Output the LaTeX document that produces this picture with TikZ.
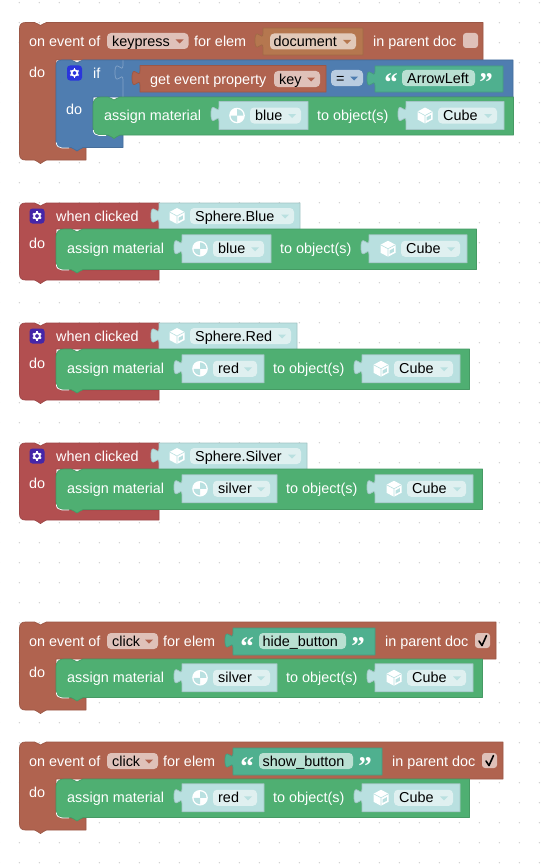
\documentclass[tikz,border=0pt]{standalone}
\usepackage{fontspec}
\setmainfont{Liberation Sans}
\newfontfamily\qf{Liberation Serif}
\definecolor{cbrown}{HTML}{B0634F}
\definecolor{cred}{HTML}{B24F50}
\definecolor{cgreen}{HTML}{4FAF72}
\definecolor{cblue}{HTML}{4F7DB0}
\definecolor{cval}{HTML}{B9E0E0}
\definecolor{cstr}{HTML}{4FB08F}
\definecolor{cdoc}{HTML}{B5774F}
\definecolor{fbrown}{HTML}{DFC1B9}
\definecolor{fval}{HTML}{DFF0F0}
\definecolor{fblue}{HTML}{B9CCE0}
\definecolor{fstr}{HTML}{B9E0D2}
\definecolor{fdoc}{HTML}{E1C9B9}
\definecolor{cgrid}{HTML}{CFCFCF}
\definecolor{cgearb}{HTML}{2A35DC}
\definecolor{cgearp}{HTML}{4526A8}
\newcounter{nn}
\tikzset{
  lab/.style={anchor=base west,inner sep=0pt,text=white,font=\fontsize{14.4}{16}\selectfont},
  txt/.style={lab,text=black},
  quot/.style={anchor=base,inner sep=0pt,text=white,font=\qf\bfseries\fontsize{27}{27}\selectfont},
  blk/.style={fill=#1,draw=#1!88!black,line width=0.7pt,line join=round}
}
% white labels and black field labels
\newcommand{\lbl}[3]{\stepcounter{nn}\node[lab] (n\thenn) at (#1,#2+5.5) {#3};}
\newcommand{\ftx}[3]{\stepcounter{nn}\node[txt] (n\thenn) at (#1,#2+5.5) {#3};}
% statement block: colour, left, top, right, bottom
\newcommand{\stmt}[5]{%
  \draw[blk=#1] (#2,#3+8) .. controls (#2,#3+3) and (#2+3,#3) .. (#2+8,#3)
   -- (#2+15,#3) .. controls (#2+18,#3) and (#2+19,#3+3) .. (#2+21,#3+3)
   .. controls (#2+23,#3+3) and (#2+24,#3) .. (#2+27,#3)
   -- (#4,#3) -- (#4,#5) -- (#2+27,#5)
   .. controls (#2+24,#5) and (#2+23,#5+3.5) .. (#2+21,#5+3.5)
   .. controls (#2+19,#5+3.5) and (#2+18,#5) .. (#2+15,#5)
   -- (#2+8,#5) .. controls (#2+3,#5) and (#2,#5-3) .. (#2,#5-8) -- cycle;}
% C block: colour, left, top, right, rowbottom, inner x, innerbottom, bar right, bottom
\newcommand{\cblock}[9]{%
  \draw[blk=#1] (#2,#3+6) .. controls (#2,#3+2) and (#2+2,#3) .. (#2+6,#3)
   -- (#2+15,#3) .. controls (#2+18,#3) and (#2+19,#3+3) .. (#2+21,#3+3)
   .. controls (#2+23,#3+3) and (#2+24,#3) .. (#2+27,#3)
   -- (#4,#3) -- (#4,#5) -- (#6,#5) -- (#6,#7-5)
   .. controls (#6,#7-2) and (#6+2,#7) .. (#6+5,#7)
   -- (#8,#7) -- (#8,#9) -- (#2+27,#9)
   .. controls (#2+24,#9) and (#2+23,#9+3.5) .. (#2+21,#9+3.5)
   .. controls (#2+19,#9+3.5) and (#2+18,#9) .. (#2+15,#9)
   -- (#2+6,#9) .. controls (#2+2,#9) and (#2,#9-2) .. (#2,#9-6) -- cycle;}
% white crescent under a nested block: left, bottom
\newcommand{\cres}[2]{\draw[white,line width=0.7pt] (#1+0.3,#2-5) .. controls (#1+0.3,#2-1.5) and (#1+3,#2+0.5) .. (#1+6,#2+0.5) -- (#1+13,#2+0.5);}
% value block with puzzle tab: colour, left, top, right, bottom
\newcommand{\tabbed}[5]{%
  \draw[blk=#1] (#2,#3) -- (#4,#3) -- (#4,#5) -- (#2,#5) -- (#2,#3+20)
   .. controls (#2,#3+10) and (#2-8,#3+28) .. (#2-8,#3+12.5)
   .. controls (#2-8,#3-3) and (#2,#3+15) .. (#2,#3+5) -- cycle;}
% dropdown: fill, left, centre y, right, arrow colour
\newcommand{\dd}[5]{%
  \fill[#1,rounded corners=4pt] (#2,#3-8) rectangle (#4,#3+8);
  \fill[#5] (#4-13,#3-1.5) -- (#4-5,#3-1.5) -- (#4-9,#3+2.5) -- cycle;}
% icons
\newcommand{\globe}[2]{%
  \fill[white] (#1,#2) circle[radius=7.8];
  \fill[cval] (#1,#2) -- (#1,#2-6.4) .. controls (#1+3.5,#2-6.4) and (#1+6.4,#2-3.5) .. (#1+6.4,#2) -- cycle;
  \fill[cval] (#1,#2) -- (#1,#2+6.4) .. controls (#1-3.5,#2+6.4) and (#1-6.4,#2+3.5) .. (#1-6.4,#2) -- cycle;}
\newcommand{\cube}[2]{%
  \fill[white,line join=round] (#1,#2-8) -- (#1+7.5,#2-4) -- (#1+7.5,#2+4) -- (#1,#2+8) -- (#1-7.5,#2+4) -- (#1-7.5,#2-4) -- cycle;
  \draw[cval,line width=0.6pt] (#1-7.5,#2-4) -- (#1,#2) -- (#1+7.5,#2-4) (#1,#2) -- (#1,#2+8);
  \fill[cval] (#1+1.5,#2+1.8) -- (#1+5.8,#2-0.6) -- (#1+5.8,#2+3) -- (#1+1.5,#2+5.2) -- cycle;}
\newcommand{\gear}[3]{%
  \fill[#1,rounded corners=3pt] (#2-7.5,#3-7.5) rectangle (#2+7.5,#3+7.5);
  \draw[white,line width=1.7pt] (#2,#3) circle[radius=2.9];
  \foreach \ang in {30,90,...,330}{\draw[white,line width=1.5pt] (#2,#3) ++(\ang:3.2) -- ++(\ang:1.6);}}
% assign material row: xleft, top, bottom, value right, value text
\newcommand{\assign}[5]{%
  \pgfmathsetmacro{\yc}{(#2+#3)/2-0.5}
  \pgfmathsetmacro{\yt}{\yc-0.8}
  \pgfmathsetmacro{\cl}{#4+98}
  \stmt{cgreen}{#1}{#2}{\cl+107.5}{#3}
  \cres{#1}{#3}
  \lbl{#1+11}{\yt}{assign material}
  \tabbed{cval}{#1+126}{\yc-14}{#4}{\yc+14}
  \globe{#1+144}{\yc}
  \dd{fval}{#1+157}{\yc}{#4-7}{cval}
  \ftx{#1+162}{\yt}{#5}
  \lbl{#4+9}{\yt}{to object(s)}
  \tabbed{cval}{\cl}{\yc-14}{\cl+98}{\yc+14}
  \cube{\cl+19}{\yc}
  \dd{fval}{\cl+32}{\yc}{\cl+91}{cval}
  \ftx{\cl+37}{\yt}{Cube}}
% when clicked block
\newcommand{\clicked}[5]{%
  \cblock{cred}{19.5}{#1}{159.5}{#1+26}{56}{#1+67}{159}{#1+77}
  \gear{cgearp}{37}{#1+13}
  \lbl{56}{#1+12.5}{when clicked}
  \lbl{29}{#1+40}{do}
  \tabbed{cval}{159}{#1}{#2}{#1+26.5}
  \cube{177}{#1+13}
  \dd{fval}{190}{#1+13}{#2-6}{cval}
  \ftx{195}{#1+12.5}{#3}
  \assign{56}{#1+26}{#1+66.5}{#4}{#5}}
% on event click block
\newcommand{\onclick}[6]{%
  \cblock{cbrown}{19.5}{#1}{#2}{#1+37}{56}{#1+76}{86}{#1+88}
  \lbl{29}{#1+19}{on event of}
  \dd{fbrown}{107}{#1+19}{158}{cbrown}
  \ftx{112}{#1+19}{click}
  \lbl{163}{#1+19}{for elem}
  \tabbed{cstr}{233}{#1+6}{#3}{#1+33}
  \node[quot] (q#1a) at (247,#1+33) {“};
  \fill[fstr,rounded corners=4pt] (259,#1+11) rectangle (#3-29,#1+27);
  \ftx{262.5}{#1+19}{#4}
  \node[quot] (q#1b) at (#3-17,#1+33) {”};
  \lbl{#3+10}{#1+19}{in parent doc}
  \fill[fbrown,rounded corners=3pt] (#2-21,#1+11) rectangle (#2-6,#1+26);
  \draw[black,line width=1.6pt,line cap=round,line join=round] (#2-17,#1+19) -- (#2-14,#1+23.5) -- (#2-9.5,#1+13.5);
  \lbl{29}{#1+50}{do}
  \assign{56}{#1+37}{#1+75.5}{#5}{#6}}
\begin{document}
\begin{tikzpicture}[x=1pt,y=-1pt]
\useasboundingbox (0,0) rectangle (544,867);
\fill[white] (0,0) rectangle (544,867);
% grid
\foreach \gx in {0,...,27}{\foreach \gy in {0,...,43}{
  \fill[cgrid] (\gx*20-0.7,\gy*20+2.7) circle[radius=0.75];}}
% block 1
\cblock{cbrown}{19.5}{22.5}{483}{60}{56}{147}{86}{160}
\lbl{29}{41}{on event of}
\dd{fbrown}{107}{41}{188.5}{cbrown}
\ftx{112}{41}{keypress}
\lbl{194}{41}{for elem}
\tabbed{cdoc}{263}{28}{363}{55}
\dd{fdoc}{270}{41.5}{356}{cdoc}
\ftx{273.5}{41}{document}
\lbl{373}{41}{in parent doc}
\fill[fbrown,rounded corners=3pt] (463,33) rectangle (478,48);
\lbl{29}{72}{do}
% if block
\cblock{cblue}{56}{60}{513}{97}{93}{135}{123}{147.5}
\cres{56}{147.5}
\gear{cgearb}{74.5}{73}
\lbl{93}{72.5}{if}
\lbl{66}{109}{do}
\draw[cblue!70!white,line width=0.7pt] (123,60.5) -- (123,65) .. controls (123,75) and (115,57) .. (115,72.5) .. controls (115,88) and (123,70) .. (123,80) -- (123,97);
\tabbed{cbrown}{140}{65.5}{326}{92}
\lbl{150}{79}{get event property}
\dd{fbrown}{274}{79}{320}{cbrown}
\ftx{279}{79}{key}
\dd{fblue}{331}{78}{363}{cblue}
\ftx{336}{78}{=}
\tabbed{cstr}{375}{66}{503}{92}
\node[quot] (q0a) at (391,92) {“};
\fill[fstr,rounded corners=4pt] (402,70) rectangle (475,86);
\ftx{407}{78.5}{ArrowLeft}
\node[quot] (q0b) at (486,92) {”};
\assign{93}{97}{135}{308}{blue}
% when clicked blocks
\clicked{203}{300}{Sphere.Blue}{271}{blue}
\clicked{323}{297}{Sphere.Red}{264}{red}
\clicked{443}{307}{Sphere.Silver}{277}{silver}
% on event blocks
\onclick{622}{496}{375}{hide\_button}{277}{silver}
\onclick{742}{503}{382}{show\_button}{264}{red}
\end{tikzpicture}
\end{document}
